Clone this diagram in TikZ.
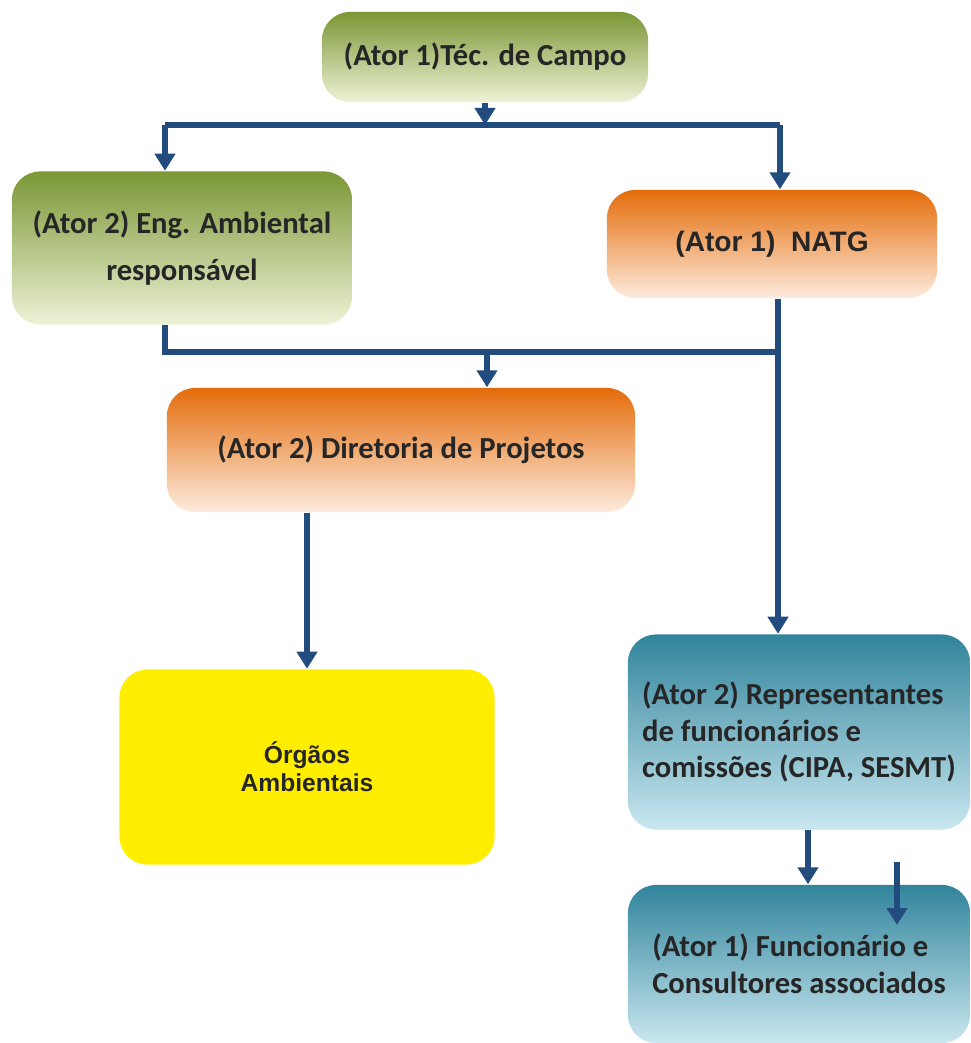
\documentclass[tikz,border=0pt]{standalone}
\usepackage{fontspec}
\setsansfont{Carlito}
\newfontfamily\arialfont{Liberation Sans}
\usetikzlibrary{arrows.meta}

\definecolor{greentop}{HTML}{7B9735}
\definecolor{greenbot}{HTML}{EDF2D6}
\definecolor{orangetop}{HTML}{E46C0A}
\definecolor{orangebot}{HTML}{FDEBDD}
\definecolor{tealtop}{HTML}{31849B}
\definecolor{tealbot}{HTML}{C9E7F0}
\definecolor{yellowbox}{HTML}{FFEE00}
\definecolor{flowblue}{HTML}{234C7E}

\tikzset{
    actor/.style={rounded corners=8pt, inner sep=2pt, font=\sffamily\bfseries\fontsize{8.7}{10.4}\selectfont, text=black!85},
    greenbox/.style={actor, top color=greentop, bottom color=greenbot},
    orangebox/.style={actor, top color=orangetop, bottom color=orangebot},
    tealbox/.style={actor, top color=tealtop, bottom color=tealbot},
    line/.style={draw=flowblue, line width=1.8pt},
    flow/.style={line, -{Triangle[width=0.2cm,length=0.17cm]}},
}

\begin{document}
\begin{tikzpicture}[x=0.01cm, y=-0.01cm]
    \useasboundingbox (0,0) rectangle (970,1043);

    % Boxes
    \node[greenbox, minimum width=3.26cm, minimum height=0.9cm] (tec) at (485,57) {(Ator 1)Téc. de Campo};
    \node[greenbox, minimum width=3.4cm, minimum height=1.53cm, align=center] (eng) at (182,248) {(Ator 2) Eng. Ambiental\\[3pt] responsável};
    \node[orangebox, minimum width=3.3cm, minimum height=1.08cm, font=\arialfont\bfseries\fontsize{8}{9}\selectfont] (natg) at (772,244) {(Ator 1)~~NATG};
    \node[orangebox, minimum width=4.68cm, minimum height=1.24cm] (dir) at (401,450) {(Ator 2) Diretoria de Projetos};
    \node[actor, fill=yellowbox, minimum width=3.75cm, minimum height=1.95cm, align=center, font=\arialfont\bfseries\fontsize{7}{8}\selectfont] (org) at (307,767) {Órgãos\\Ambientais};
    \node[tealbox, minimum width=3.42cm, minimum height=1.95cm, align=left] (rep) at (799,732) {(Ator 2) Representantes\\de funcionários e\\comissões (CIPA, SESMT)};
    \node[tealbox, minimum width=3.42cm, minimum height=1.58cm, align=left] (func) at (799,964) {(Ator 1) Funcionário e\\Consultores associados};

    % Junctions
    \coordinate (topl) at (165,125);
    \coordinate (topr) at (780,125);
    \coordinate (midl) at (165,352);
    \coordinate (midm) at (487,352);
    \coordinate (midr) at (778,352);
    \coordinate (loose1) at (897,862);
    \coordinate (loose2) at (897,925);

    % Connectors
    \draw[flow] (tec.south) -- (tec.south |- topl);
    \draw[line] (topl) -- (topr);
    \draw[flow] (topl) -- (topl |- eng.north);
    \draw[flow] (topr) -- (topr |- natg.north);

    \draw[line] (eng.south -| midl) -- (midl) -- (midr);
    \draw[flow] (natg.south -| midr) -- (midr |- rep.north);
    \draw[flow] (midm) -- (midm |- dir.north);

    \draw[flow] (dir.south -| org.north) -- (org.north);
    \draw[flow] ([xshift=0.09cm]rep.south) -- ([xshift=0.09cm]func.north);
    \draw[flow] (loose1) -- (loose2);
\end{tikzpicture}
\end{document}
